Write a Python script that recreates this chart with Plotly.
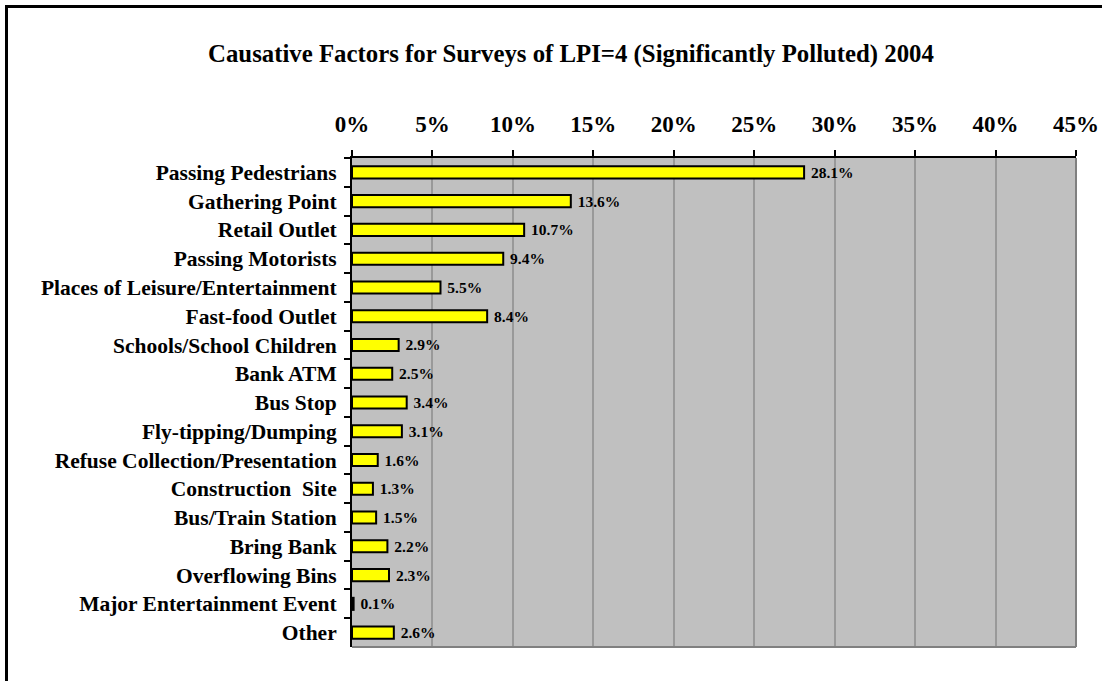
import plotly.graph_objects as go

categories = ["Passing Pedestrians", "Gathering Point", "Retail Outlet", "Passing Motorists",
              "Places of Leisure/Entertainment", "Fast-food Outlet", "Schools/School Children",
              "Bank ATM", "Bus Stop", "Fly-tipping/Dumping", "Refuse Collection/Presentation",
              "Construction\u00a0 Site", "Bus/Train Station", "Bring Bank", "Overflowing Bins",
              "Major Entertainment Event", "Other"]
values = [28.1, 13.6, 10.7, 9.4, 5.5, 8.4, 2.9, 2.5, 3.4, 3.1, 1.6, 1.3, 1.5, 2.2, 2.3, 0.1, 2.6]
tick_vals = [0, 5, 10, 15, 20, 25, 30, 35, 40, 45]
tick_text = [f"{v}%" for v in tick_vals]
title = "Causative Factors for Surveys of LPI=4 (Significantly Polluted) 2004"

W, H = 1102, 681
L, R, T, B = 352, 26, 158, 34
pw, ph = W - L - R, H - T - B

font = "Liberation Serif, Times New Roman, serif"

fig = go.Figure(go.Bar(
    x=values, y=categories, orientation="h",
    marker=dict(color="#FFFF00", line=dict(color="black", width=2)),
    width=0.42,
    text=[f"\u00a0{v:.1f}%" for v in values], textposition="outside",
    textfont=dict(family=font, size=15.5, color="black", weight="bold"),
    constraintext="none", cliponaxis=False, hoverinfo="skip",
))

shapes = [
    # outer border
    dict(type="rect", xref="paper", yref="paper",
         x0=(6.5 - L) / pw, x1=(W + 20 - L) / pw,
         y0=-(B + 20) / ph, y1=(H - B - 6.5) / ph,
         line=dict(color="black", width=3), fillcolor="rgba(0,0,0,0)", layer="below"),
    # right and bottom gray plot borders
    dict(type="line", xref="paper", yref="paper", x0=1, x1=1, y0=0, y1=1,
         line=dict(color="#808080", width=2)),
    dict(type="line", xref="paper", yref="paper", x0=0, x1=1, y0=0, y1=0,
         line=dict(color="#808080", width=2)),
]

fig.update_layout(
    width=W, height=H,
    margin=dict(l=L, r=R, t=T, b=B, autoexpand=False),
    paper_bgcolor="white", plot_bgcolor="#C0C0C0",
    showlegend=False,
    title=dict(text=f"<b>{title}</b>", x=571 / W, xanchor="center", xref="container",
               y=1 - 53 / H, yanchor="middle", yref="container",
               font=dict(family=font, size=24.8, color="black")),
    xaxis=dict(side="top", range=[0, 45], tickvals=tick_vals, ticktext=tick_text,
               showgrid=True, gridcolor="#999999", gridwidth=2,
               showline=True, linecolor="black", linewidth=2,
               ticks="outside", ticklen=6, tickwidth=2, tickcolor="black",
               ticklabelstandoff=9,
               tickfont=dict(family=font, size=23, color="black", weight="bold"),
               zeroline=False, fixedrange=True),
    yaxis=dict(autorange="reversed", tickson="boundaries",
               showline=True, linecolor="black", linewidth=2,
               ticks="outside", ticklen=6, tickwidth=2, tickcolor="black",
               ticklabelstandoff=9,
               tickfont=dict(family=font, size=21.5, color="black", weight="bold"),
               showgrid=False, fixedrange=True),
    shapes=shapes,
    bargap=0.58,
)

fig.write_html("out.html", config={"displayModeBar": False},
               post_script="document.body.style.margin='0px';")
